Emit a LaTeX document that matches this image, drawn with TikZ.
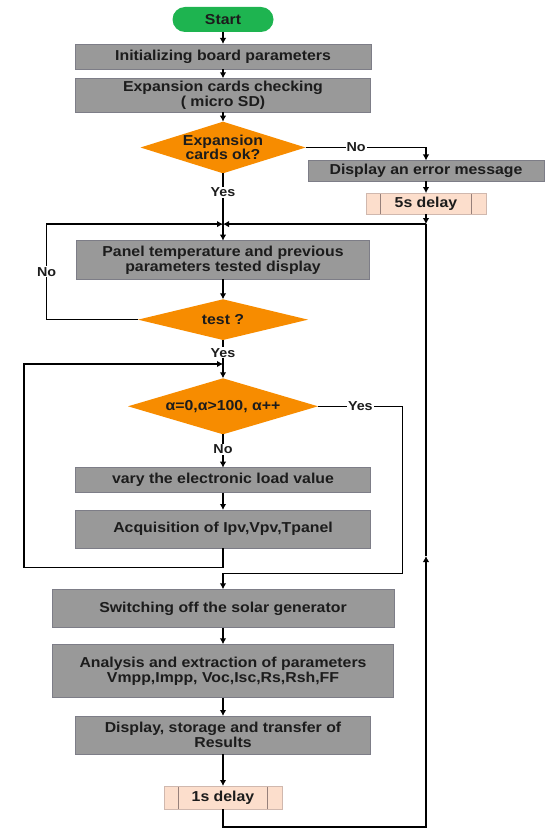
\documentclass[tikz,border=0pt]{standalone}
\usepackage{fontspec}
\setmainfont{Liberation Sans}[FakeStretch=1.1]
\usetikzlibrary{shapes.geometric}
\usetikzlibrary{positioning}
\usetikzlibrary{arrows.meta}
\definecolor{txt}{RGB}{28,28,28}
\definecolor{boxfill}{RGB}{153,153,153}
\definecolor{boxedge}{RGB}{125,125,135}
\definecolor{decfill}{RGB}{247,140,0}
\definecolor{startfill}{RGB}{30,180,80}
\definecolor{delayfill}{RGB}{252,222,204}
\definecolor{delayedge}{RGB}{208,184,174}
\definecolor{delayline}{RGB}{150,128,122}
\newcommand{\boxfont}{\bfseries\fontsize{14.4}{15}\selectfont}

\begin{document}
\begin{tikzpicture}[x=1pt,y=-1pt,line width=1.2pt,>={Latex[length=6pt,width=6.5pt]},
  every node/.style={text=txt,font=\boxfont,align=center,outer sep=0pt},
  proc/.style={draw=boxedge,line width=0.8pt,fill=boxfill,inner sep=2pt},
  decision/.style={diamond,fill=decfill,inner sep=0pt,shape aspect=3.2,font=\bfseries\fontsize{14.4}{14}\selectfont},
  delaybox/.style={draw=delayedge,line width=0.8pt,fill=delayfill,inner sep=2pt,
    path picture={
      \draw[delayline,line width=0.8pt] ([xshift=14.5pt]path picture bounding box.north west) -- ([xshift=14.5pt]path picture bounding box.south west);
      \draw[delayline,line width=0.8pt] ([xshift=-14.5pt]path picture bounding box.north east) -- ([xshift=-14.5pt]path picture bounding box.south east);}},
  lbl/.style={fill=white,inner sep=1pt,font=\bfseries\fontsize{13}{13}\selectfont}]
  \useasboundingbox (0,0) rectangle (550,834);
  \node[fill=startfill,rounded corners=12.5pt,minimum width=101pt,minimum height=25pt,inner sep=0pt](start) at (223,19.5) {Start};
  \node[below=12pt of start,proc,minimum width=296pt,minimum height=25.3pt](init) {Initializing board parameters};
  \node[below=9pt of init,proc,minimum width=295pt,minimum height=34pt](cards) {Expansion cards checking\\( micro SD)};
  \node[below=9.4pt of cards,decision,minimum width=165pt,minimum height=51.6pt](cardsok) {Expansion\\cards ok?};
  \node[proc,minimum width=236pt,minimum height=21pt](error) at (426,171) {Display an error message};
  \node[below=11.6pt of error,delaybox,minimum width=120pt,minimum height=21pt](delayfive) {5s delay};
  \node[below=67.4pt of cardsok,proc,minimum width=293pt,minimum height=38.6pt](panel) {Panel temperature and previous\\parameters tested display};
  \node[below=20pt of panel,decision,minimum width=170pt,minimum height=40.7pt](test) {test ?};
  \node[below=38.3pt of test,decision,minimum width=190pt,minimum height=56pt](alpha) {α=0,α>100, α++};
  \node[below=33.4pt of alpha,proc,minimum width=295pt,minimum height=25pt](vary) {vary the electronic load value};
  \node[below=17.3pt of vary,proc,minimum width=295pt,minimum height=38.3pt](acq) {Acquisition of Ipv,Vpv,Tpanel};
  \node[below=41pt of acq,proc,minimum width=342pt,minimum height=38.4pt](switch) {Switching off the solar generator};
  \node[below=16.6pt of switch,proc,minimum width=341pt,minimum height=53.4pt](analysis) {Analysis and extraction of parameters\\Vmpp,Impp, Voc,Isc,Rs,Rsh,FF};
  \node[below=18.3pt of analysis,proc,minimum width=295pt,minimum height=38.3pt](display) {Display, storage and transfer of\\Results};
  \node[below=31.7pt of display,delaybox,minimum width=118pt,minimum height=23pt](delayone) {1s delay};
  % junctions of the loops
  \coordinate[below=10pt of delayfive](jr);
  \coordinate (jn) at (cardsok |- jr);
  \coordinate[above=14.3pt of alpha](jl);
  \coordinate[above=16pt of switch](swin);
  \coordinate (upmark) at (426,556);
  \draw[->] (start)--(init);
  \draw[->] (init)--(cards);
  \draw[->] (cards)--(cardsok);
  \draw[->] (cardsok) -- node[lbl,pos=0.28]{Yes} (panel);
  \draw[->] (cardsok.east) -| node[lbl,pos=0.21]{No} (error);
  \draw[->] (error)--(delayfive);
  \draw[->] (delayfive)--(jr);
  \draw[->] (jr)--(jn);
  \draw[->] (test.west) -- ++(-91.4,0) |- node[lbl,pos=0.25]{No} (jn);
  \draw[->] (panel)--(test);
  \draw[->] (test) -- node[lbl,pos=0.33]{Yes} (alpha);
  \draw[->] (alpha) -- node[lbl,pos=0.45]{No} (vary);
  \draw[->] (vary)--(acq);
  \draw[->] (acq.south) |- ++(-199.1,19.4) |- (jl);
  \draw[->] (alpha.east) -- node[lbl]{Yes} ++(84.7,0) |- (swin) -- (switch);
  \draw[->] (switch)--(analysis);
  \draw[->] (analysis)--(display);
  \draw[->] (display)--(delayone);
  \draw[->] (delayone.south) |- ++(203,18) -- (upmark);
  \draw (upmark)--(jr);
\end{tikzpicture}
\end{document}
